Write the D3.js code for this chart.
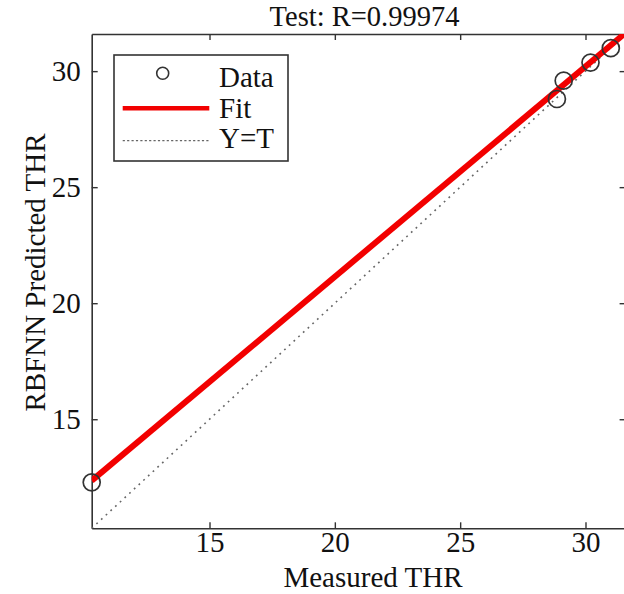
<!DOCTYPE html>
<html>
<head>
<meta charset="utf-8">
<script src="https://cdn.jsdelivr.net/npm/d3@7"></script>
<style>
  html, body { margin: 0; padding: 0; background: #fff; }
  svg { display: block; }
  svg text { font-family: 'Liberation Serif', 'Tinos', 'Times New Roman', 'DejaVu Serif', serif; fill: #111; }
</style>
</head>
<body>
<div id="chart"></div>
<script>
// Test set: measured targets vs. RBFNN outputs
const targets = [10.30, 28.86, 29.13, 30.20, 31.01];
const outputs = [12.28, 28.80, 29.59, 30.37, 30.99];
// Linear fit  Output ~= slope * Target + intercept
const fitSlope = 0.906;
const fitIntercept = 3.02;
const axisLimits = [10.3, 31.6];
const tickValues = [15, 20, 25, 30];
const titleText = "Test: R=0.99974";
const legendLabels = ["Data", "Fit", "Y=T"];

const W = 624, H = 594;
const svg = d3.select("#chart").append("svg").attr("width", W).attr("height", H);

const x = d3.scaleLinear().domain(axisLimits).range([91.7, 625.6]);
const y = d3.scaleLinear().domain(axisLimits).range([528.3, 34]);
const [x0, x1] = x.range();
const [yb, yt] = y.range();

svg.append("defs").append("clipPath").attr("id", "plotClip")
  .append("rect").attr("x", x0).attr("y", yt).attr("width", x1 - x0).attr("height", yb - yt);

const axisColor = "#333";
const fontSize = 29;

function styleAxis(g) {
  g.attr("font-family", null);
  g.select(".domain").attr("stroke", axisColor).attr("stroke-width", 1.6);
  g.selectAll(".tick line").attr("stroke", axisColor).attr("stroke-width", 1.4);
  g.selectAll(".tick text").attr("font-size", fontSize).attr("fill", "#111");
}

// Bottom and left axes with labels, top and right mirrored ticks
svg.append("g").attr("transform", `translate(0,${yb})`)
  .call(d3.axisBottom(x).tickValues(tickValues).tickSizeInner(-6).tickSizeOuter(0).tickPadding(3))
  .call(styleAxis);
svg.append("g").attr("transform", `translate(${x0},0)`)
  .call(d3.axisLeft(y).tickValues(tickValues).tickSizeInner(-6).tickSizeOuter(0).tickPadding(11))
  .call(styleAxis);
svg.append("g").attr("transform", `translate(0,${yt})`)
  .call(d3.axisTop(x).tickValues(tickValues).tickSizeInner(-6).tickSizeOuter(0).tickFormat(""))
  .call(styleAxis);
svg.append("g").attr("transform", `translate(${x1},0)`)
  .call(d3.axisRight(y).tickValues(tickValues).tickSizeInner(-6).tickSizeOuter(0).tickFormat(""))
  .call(styleAxis);

const plot = svg.append("g").attr("clip-path", "url(#plotClip)");

// Y = T reference line
plot.append("line")
  .attr("x1", x(axisLimits[0])).attr("y1", y(axisLimits[0]))
  .attr("x2", x(axisLimits[1])).attr("y2", y(axisLimits[1]))
  .attr("stroke", "#666").attr("stroke-width", 1.6).attr("stroke-dasharray", "1.8,4.6");

// Fitted regression line
const fitLine = d3.line().x(d => x(d)).y(d => y(fitSlope * d + fitIntercept));
plot.append("path").datum(axisLimits)
  .attr("d", fitLine).attr("fill", "none")
  .attr("stroke", "#f20000").attr("stroke-width", 6);

// Data markers
const pts = targets.map((t, i) => ({ t, o: outputs[i] }));
svg.append("g").selectAll("circle").data(pts).join("circle")
  .attr("cx", d => x(d.t)).attr("cy", d => y(d.o)).attr("r", 8.5)
  .attr("fill", "none").attr("stroke", "#333").attr("stroke-width", 1.7);

// Titles
svg.append("text").attr("x", 364.5).attr("y", 25.5).attr("text-anchor", "middle")
  .attr("font-size", 28.5).text(titleText);
svg.append("text").attr("x", 373).attr("y", 586.5).attr("text-anchor", "middle")
  .attr("font-size", fontSize).text("Measured THR");
svg.append("text").attr("transform", "translate(45,272.5) rotate(-90)")
  .attr("text-anchor", "middle").attr("font-size", fontSize).text("RBFNN Predicted THR");

// Legend
const lg = svg.append("g");
lg.append("rect").attr("x", 114).attr("y", 55).attr("width", 174).attr("height", 106)
  .attr("fill", "#fff").attr("stroke", axisColor).attr("stroke-width", 1.6);
lg.append("circle").attr("cx", 162.7).attr("cy", 73.3).attr("r", 6)
  .attr("fill", "none").attr("stroke", "#333").attr("stroke-width", 1.6);
lg.append("line").attr("x1", 122.7).attr("x2", 209.3).attr("y1", 108.3).attr("y2", 108.3)
  .attr("stroke", "#f20000").attr("stroke-width", 4.5);
lg.append("line").attr("x1", 122.7).attr("x2", 209.3).attr("y1", 140.7).attr("y2", 140.7)
  .attr("stroke", "#666").attr("stroke-width", 1.2).attr("stroke-dasharray", "2.2,2.2");
const legendBaselines = [86.7, 118, 148.3];
legendLabels.forEach((l, i) => {
  lg.append("text").attr("x", 219).attr("y", legendBaselines[i])
    .attr("font-size", fontSize).text(l);
});
</script>
</body>
</html>
